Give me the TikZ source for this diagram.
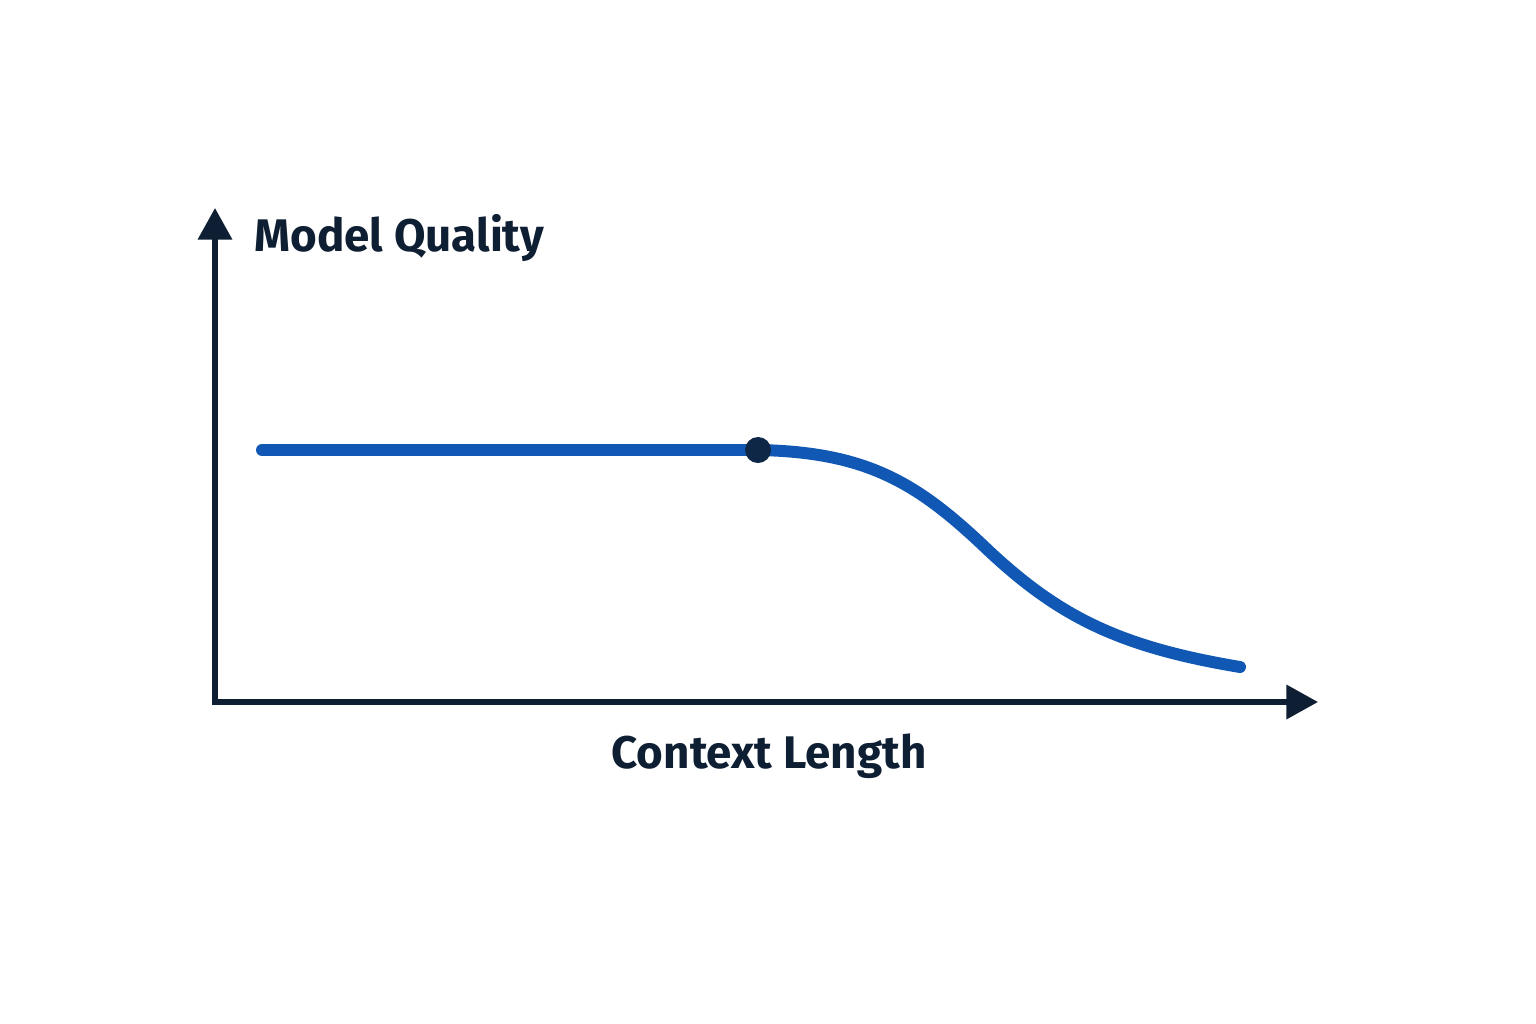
\documentclass[tikz,border=0pt]{standalone}
\usepackage{fontspec}
\setmainfont{Fira Sans}
\usetikzlibrary{arrows.meta}
\definecolor{inkblue}{HTML}{0F1F33}
\definecolor{curveblue}{HTML}{1158B4}
\definecolor{knotblue}{HTML}{0E2746}

\begin{document}
\begin{tikzpicture}[x=0.01cm,y=-0.01cm,
    axis/.style={draw=inkblue,line width=1.6pt,line cap=rect,-{Triangle[length=9pt,width=9.5pt]}},
    quality/.style={draw=curveblue,line width=3.4pt,line cap=round},
    label/.style={text=inkblue,font=\fontsize{13}{15}\selectfont\bfseries}]

    \useasboundingbox (0,0) rectangle (1536,1024);
\coordinate (o) at (215,702);
\coordinate (ytip) at (215,208);
\coordinate (xtip) at (1318,702);
\coordinate (start) at (262,450);
\coordinate (knee) at (758,450);
\coordinate (tail) at (1240,667);
\draw[axis] (o) -- (ytip);
\draw[axis] (o) -- (xtip);
\draw[quality] (start) -- (knee) .. controls (870,452) and (920,485) .. (990,552) .. controls (1060,617) and (1120,647) .. (tail);
\node[circle,fill=knotblue,inner sep=0pt,minimum size=0.26cm] (dot) at (knee) {};
\node[label,anchor=west] (ylab) at (242,238) {Model Quality};
\node[label] (xlab) at (769,756) {Context Length};


  \end{tikzpicture}
\end{document}
